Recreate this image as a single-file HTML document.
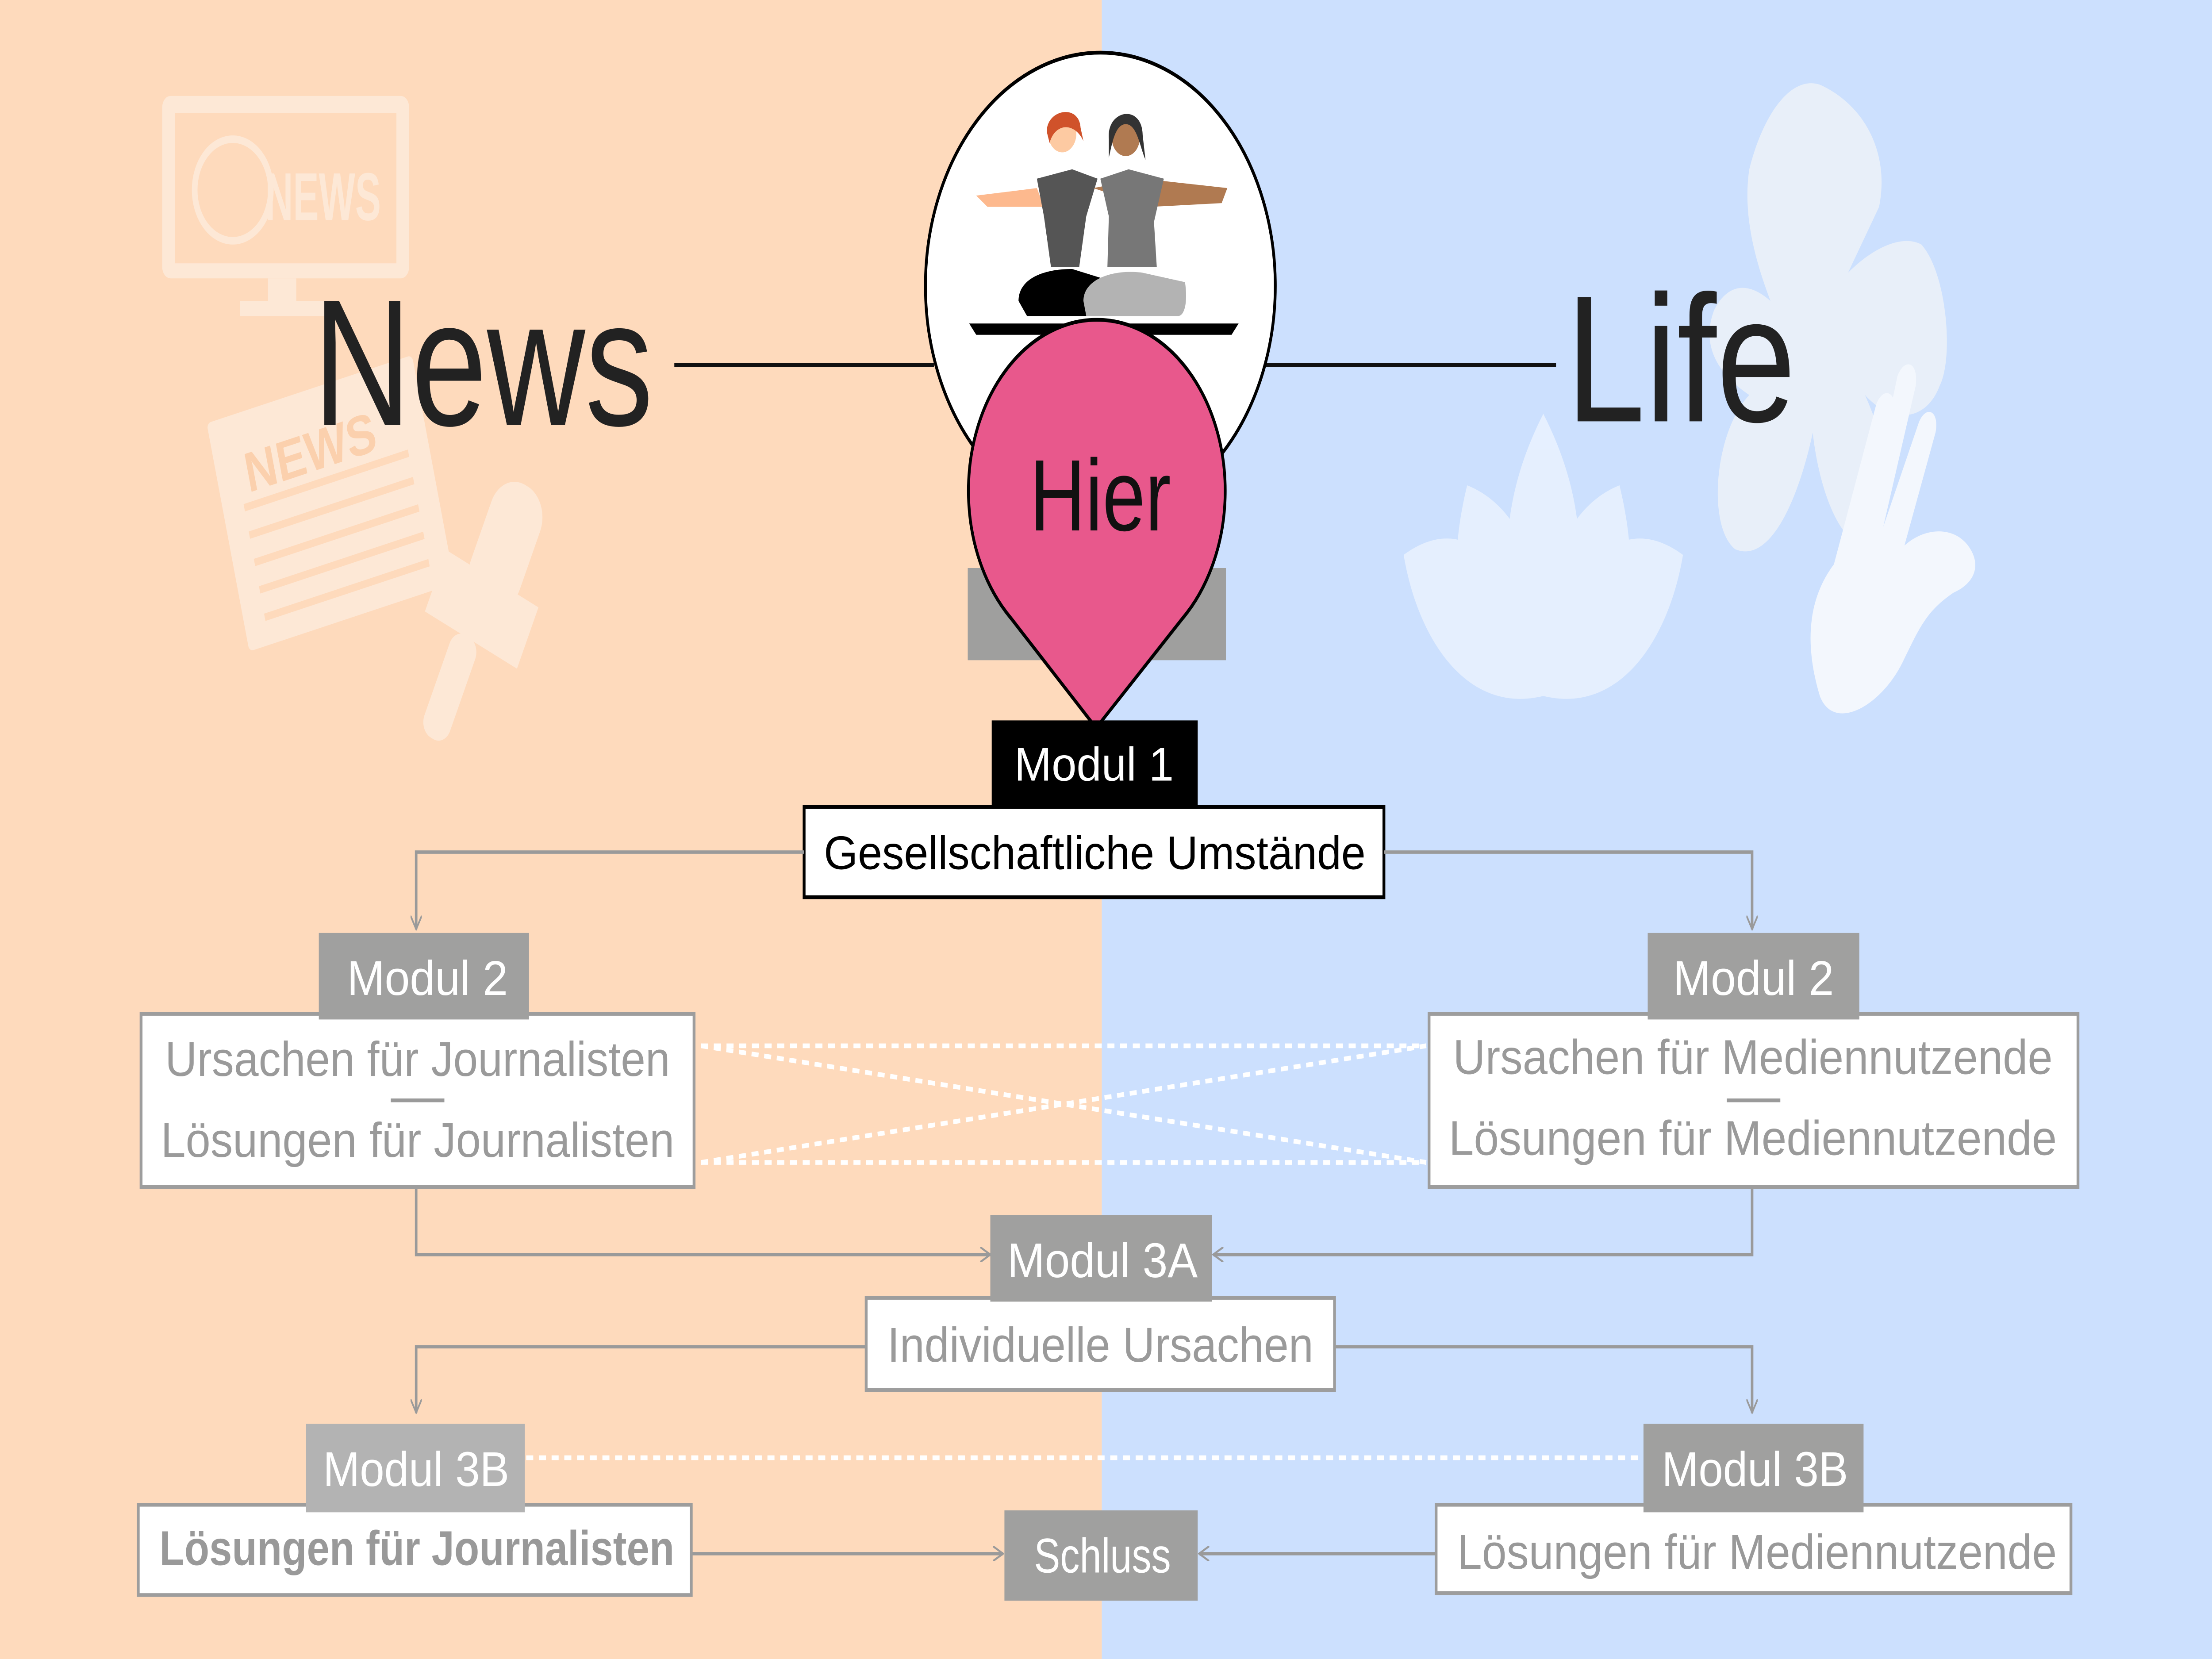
<!DOCTYPE html>
<html><head><meta charset="utf-8"><style>
html,body{margin:0;padding:0;overflow:hidden;width:100%;height:100%}
svg{display:block;width:100vw;height:100vh}
text{font-family:"Liberation Sans",sans-serif}
</style></head><body>
<svg xmlns="http://www.w3.org/2000/svg" viewBox="0 0 1568 882" preserveAspectRatio="none">
<defs>
<marker id="a" viewBox="0 0 10 10" refX="9" refY="5" markerWidth="8" markerHeight="8" orient="auto" markerUnits="userSpaceOnUse"><path d="M0,0 L9,5 L0,10" fill="none" stroke="#9a9a9a" stroke-width="1.4"/></marker>
</defs>
<rect x="0" y="0" width="781" height="882" fill="#FEDABC"/>
<rect x="781" y="0" width="787" height="882" fill="#CCE0FE"/>

<g fill="#fde8d6" stroke="none">
<rect x="115" y="51" width="175" height="97" rx="6"/>
<rect x="190" y="148" width="20" height="14"/>
<rect x="170" y="160" width="60" height="8"/>
<g transform="rotate(-14 235 270)"><rect x="160" y="205" width="150" height="125" rx="3"/></g>
<g transform="rotate(25 340 320)"><rect x="325" y="250" width="38" height="70" rx="18"/><rect x="307" y="305" width="72" height="36"/><rect x="330" y="340" width="20" height="60" rx="9"/></g>
</g>
<rect x="124" y="60" width="157" height="80" fill="#FEDABC"/>
<circle cx="165" cy="101" r="27" fill="none" stroke="#fde8d6" stroke-width="4"/>
<text x="188" y="117" font-size="36" font-weight="bold" fill="#fde8d6" textLength="82" lengthAdjust="spacingAndGlyphs">NEWS</text>
<g transform="rotate(-14 235 270)" stroke="#FEDABC" stroke-width="4"><line x1="175" y1="255" x2="295" y2="255"/><line x1="175" y1="270" x2="295" y2="270"/><line x1="175" y1="285" x2="295" y2="285"/><line x1="175" y1="300" x2="295" y2="300"/><line x1="175" y1="315" x2="295" y2="315"/></g>
<text x="180" y="248" font-size="30" font-weight="bold" fill="#fbd0ad" transform="rotate(-14 235 270)" textLength="95" lengthAdjust="spacingAndGlyphs">NEWS</text>

<path fill="#e8eff9" d="M1240,90 C1250,60 1270,40 1290,45 C1320,55 1340,80 1332,110 L1310,145 C1330,130 1350,125 1362,130 C1380,145 1385,190 1375,205 C1365,225 1340,225 1322,210 C1340,240 1345,270 1330,285 C1310,300 1290,265 1285,230 C1275,265 1255,300 1230,292 C1210,280 1215,230 1240,210 C1220,200 1205,185 1215,165 C1225,150 1240,150 1255,160 C1245,140 1235,115 1240,90Z"/>
<g fill="#ffffff" opacity="0.5">
<path d="M1094,370 C1060,320 1060,270 1094,220 C1128,270 1128,320 1094,370Z"/>
<path d="M1094,370 C1040,360 1020,320 1040,258 C1080,270 1100,310 1094,370Z"/>
<path d="M1094,370 C1148,360 1168,320 1148,258 C1108,270 1088,310 1094,370Z"/>
<path d="M1094,370 C1040,380 1005,340 995,295 C1040,270 1080,300 1094,370Z"/>
<path d="M1094,370 C1148,380 1183,340 1193,295 C1148,270 1108,300 1094,370Z"/>
</g>
<path fill="#f3f7fd" d="M1300,300 L1330,215 C1335,205 1345,208 1343,220 L1320,290 L1345,200 C1350,190 1360,192 1358,205 L1335,280 L1360,225 C1365,215 1375,218 1372,230 L1350,290 C1365,280 1385,280 1395,290 C1405,300 1400,310 1385,315 C1365,325 1360,335 1350,350 C1335,375 1300,390 1290,370 C1280,345 1280,320 1300,300Z"/>

<text x="222" y="226" font-size="96" fill="#222" textLength="241" lengthAdjust="spacingAndGlyphs">News</text>
<text x="1110" y="224" font-size="96" fill="#222" textLength="163" lengthAdjust="spacingAndGlyphs">Life</text>
<line x1="478" y1="194" x2="662" y2="194" stroke="#111" stroke-width="2"/>
<line x1="897" y1="194" x2="1103" y2="194" stroke="#111" stroke-width="2"/>

<circle cx="780" cy="152" r="124" fill="#fff" stroke="#000" stroke-width="2"/>
<g>
<path d="M687,172 L878,172 L873,178 L692,178Z" fill="#000"/>
<path d="M692,104 L735,100 L740,110 L700,110Z" fill="#fdb98e"/>
<path d="M735,95 L760,90 L778,95 L770,115 L765,142 L745,142 L740,115Z" fill="#555"/>
<path d="M722,160 C722,148 740,143 760,143 L790,150 L785,168 L728,168Z" fill="#000"/>
<circle cx="753" cy="71" r="10" fill="#fdcaa2"/>
<path d="M742,70 C742,58 765,55 766,68 L768,75 C762,65 748,65 744,76Z" fill="#d0522a"/>
<path d="M775,100 L810,95 L870,100 L866,108 L815,110Z" fill="#b07a51"/>
<path d="M780,95 L800,90 L825,95 L818,118 L820,142 L785,142 L786,115Z" fill="#777"/>
<path d="M768,160 C768,148 790,143 810,145 L840,150 C842,160 840,168 835,168 L770,168Z" fill="#b3b3b3"/>
<circle cx="798" cy="73" r="10" fill="#b07a51"/>
<path d="M786,74 C784,58 810,55 810,72 L812,85 C808,78 806,66 798,66 C790,66 788,78 786,84Z" fill="#333"/>
</g>

<rect x="686" y="302" width="183" height="49" fill="#9f9f9e"/>
<path d="M717,329 A91,91 0 1 1 838,329 L777,387 Z" fill="#E8588C" stroke="#000" stroke-width="2"/>
<text x="730" y="282" font-size="54" fill="#111" textLength="100" lengthAdjust="spacingAndGlyphs">Hier</text>

<rect x="703" y="383" width="146" height="47" fill="#000"/>
<text x="719" y="415" font-size="25" fill="#fff" textLength="113" lengthAdjust="spacingAndGlyphs">Modul 1</text>
<rect x="570" y="429" width="411" height="48" fill="#fff" stroke="#000" stroke-width="2"/>
<text x="584" y="462" font-size="25" fill="#000" textLength="384" lengthAdjust="spacingAndGlyphs">Gesellschaftliche Umstände</text>

<g fill="none" stroke="#9a9a9a" stroke-width="1.8">
<polyline points="570,453 295,453 295,494" marker-end="url(#a)"/>
<polyline points="981,453 1242,453 1242,494" marker-end="url(#a)"/>
<polyline points="295,631 295,667 702,667" marker-end="url(#a)"/>
<polyline points="1242,631 1242,667 860,667" marker-end="url(#a)"/>
<polyline points="614,716 295,716 295,751" marker-end="url(#a)"/>
<polyline points="946,716 1242,716 1242,751" marker-end="url(#a)"/>
<line x1="490" y1="826" x2="711" y2="826" marker-end="url(#a)"/>
<line x1="1018" y1="826" x2="850" y2="826" marker-end="url(#a)"/>
</g>

<g stroke="#fff" stroke-width="2.5" stroke-dasharray="5,4" fill="none">
<line x1="497" y1="556" x2="1011" y2="556"/>
<line x1="497" y1="618" x2="1011" y2="618"/>
<line x1="497" y1="556" x2="1011" y2="618"/>
<line x1="497" y1="618" x2="1011" y2="556"/>
<line x1="373" y1="775" x2="1165" y2="775"/>
</g>

<rect x="100" y="539" width="392" height="92" fill="#fff" stroke="#9d9d9d" stroke-width="2"/>
<rect x="226" y="496" width="149" height="46" fill="#a0a09f"/>
<text x="246" y="529" font-size="26" fill="#fff" textLength="114" lengthAdjust="spacingAndGlyphs">Modul 2</text>
<text x="117" y="572" font-size="26" fill="#9a9a9a" textLength="358" lengthAdjust="spacingAndGlyphs">Ursachen für Journalisten</text>
<line x1="277" y1="585" x2="315" y2="585" stroke="#9a9a9a" stroke-width="2"/>
<text x="114" y="615" font-size="26" fill="#9a9a9a" textLength="364" lengthAdjust="spacingAndGlyphs">Lösungen für Journalisten</text>

<rect x="1013" y="539" width="460" height="92" fill="#fff" stroke="#9d9d9d" stroke-width="2"/>
<rect x="1168" y="496" width="150" height="46" fill="#a0a09f"/>
<text x="1186" y="529" font-size="26" fill="#fff" textLength="114" lengthAdjust="spacingAndGlyphs">Modul 2</text>
<text x="1030" y="571" font-size="26" fill="#9a9a9a" textLength="425" lengthAdjust="spacingAndGlyphs">Ursachen für Mediennutzende</text>
<line x1="1224" y1="585" x2="1262" y2="585" stroke="#9a9a9a" stroke-width="2"/>
<text x="1027" y="614" font-size="26" fill="#9a9a9a" textLength="431" lengthAdjust="spacingAndGlyphs">Lösungen für Mediennutzende</text>

<rect x="614" y="690" width="332" height="49" fill="#fff" stroke="#9d9d9d" stroke-width="2"/>
<rect x="702" y="646" width="157" height="46" fill="#a0a09f"/>
<text x="714" y="679" font-size="26" fill="#fff" textLength="135" lengthAdjust="spacingAndGlyphs">Modul 3A</text>
<text x="629" y="724" font-size="26" fill="#9a9a9a" textLength="302" lengthAdjust="spacingAndGlyphs">Individuelle Ursachen</text>

<rect x="98" y="800" width="392" height="48" fill="#fff" stroke="#9d9d9d" stroke-width="2"/>
<rect x="217" y="757" width="155" height="47" fill="#b3b3b3"/>
<text x="229" y="790" font-size="26" fill="#fff" textLength="132" lengthAdjust="spacingAndGlyphs">Modul 3B</text>
<text x="113" y="832" font-size="26" font-weight="bold" fill="#999" textLength="365" lengthAdjust="spacingAndGlyphs">Lösungen für Journalisten</text>

<rect x="1018" y="800" width="450" height="47" fill="#fff" stroke="#9d9d9d" stroke-width="2"/>
<rect x="1165" y="757" width="156" height="47" fill="#a0a09f"/>
<text x="1178" y="790" font-size="26" fill="#fff" textLength="132" lengthAdjust="spacingAndGlyphs">Modul 3B</text>
<text x="1033" y="834" font-size="26" fill="#999" textLength="425" lengthAdjust="spacingAndGlyphs">Lösungen für Mediennutzende</text>

<rect x="712" y="803" width="137" height="48" fill="#a0a09f"/>
<text x="733" y="836" font-size="26" fill="#fff" textLength="97" lengthAdjust="spacingAndGlyphs">Schluss</text>
</svg>
</body></html>
